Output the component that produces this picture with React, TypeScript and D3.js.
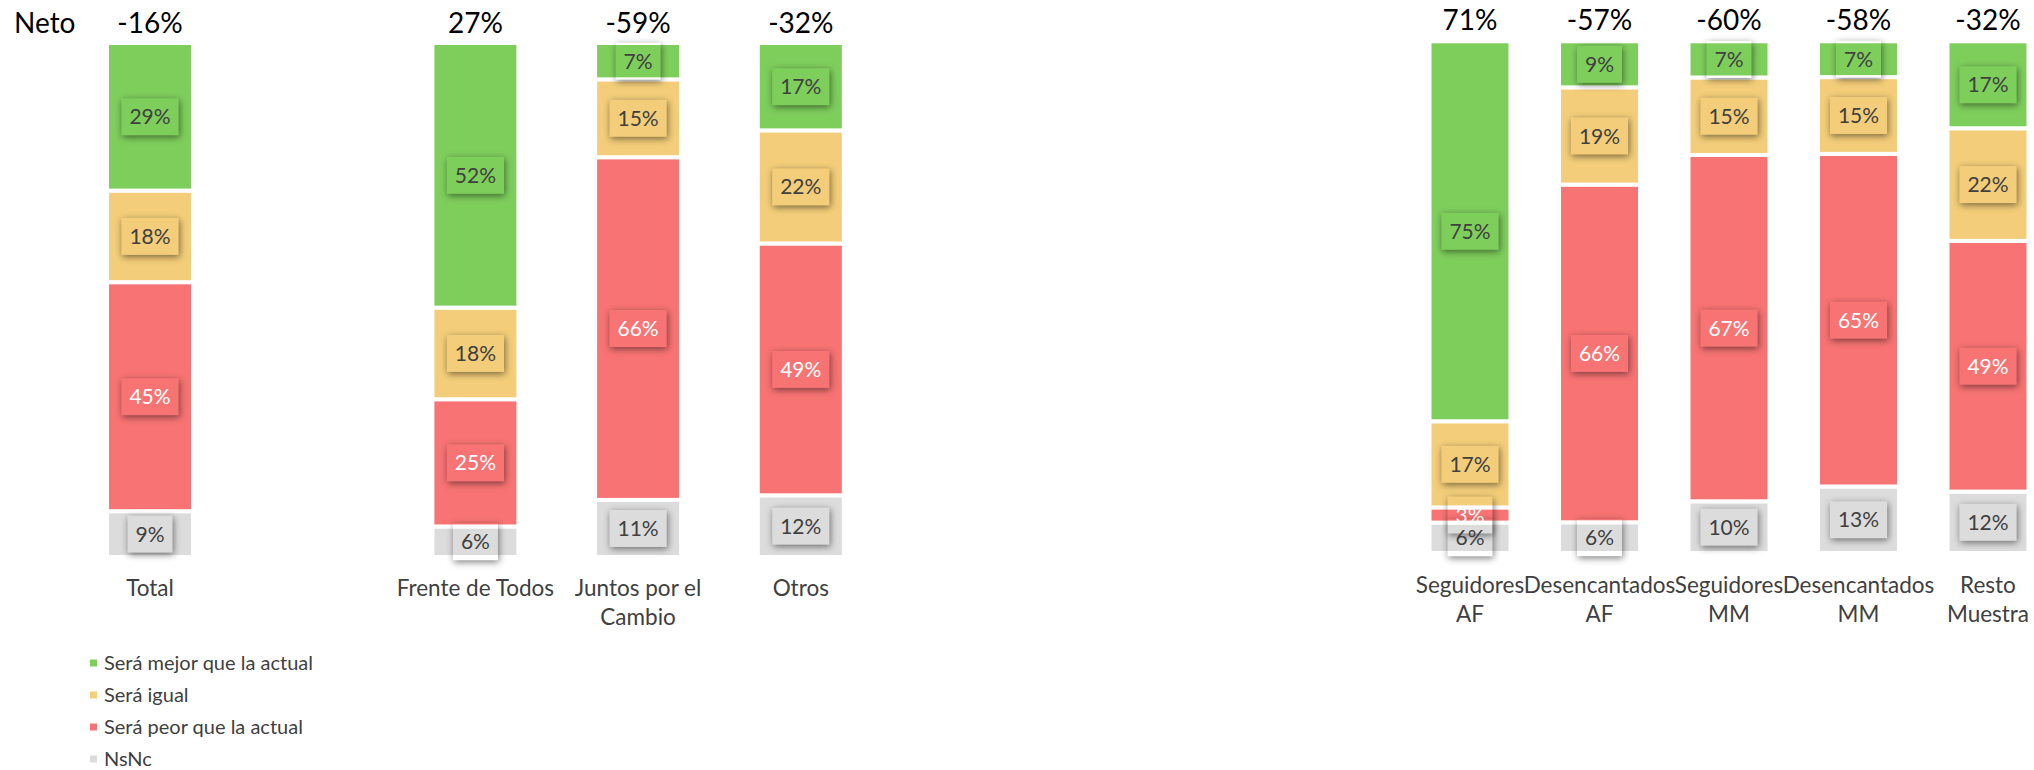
import React from "react";
import * as d3 from "d3";

// ---------- data ----------
const seriesNames = ["Será mejor que la actual", "Será igual", "Será peor que la actual", "NsNc"];

const leftCategories = ["Total", "", "Frente de Todos", "Juntos por el Cambio", "Otros"];
const leftMejor = [29, null, 52, 7, 17];
const leftIgual = [18, null, 18, 15, 22];
const leftPeor = [45, null, 25, 66, 49];
const leftNsNc = [9, null, 6, 11, 12];
const leftNeto = [-16, null, 27, -59, -32];

const rightCategories = ["Seguidores AF", "Desencantados AF", "Seguidores MM", "Desencantados MM", "Resto Muestra"];
const rightMejor = [75, 9, 7, 7, 17];
const rightIgual = [17, 19, 15, 15, 22];
const rightPeor = [3, 66, 67, 65, 49];
const rightNsNc = [6, 6, 10, 13, 12];
const rightNeto = [71, -57, -60, -58, -32];

// ---------- style ----------
const COLORS = ["#7ECE5C", "#F3CD79", "#F87373", "#DCDCDC"];
const LABEL_COLORS = ["#404040", "#404040", "#FFFFFF", "#404040"];
const FONT = "Lato, 'Open Sans', sans-serif";
const W = 2034;
const H = 770;

let _ctx: CanvasRenderingContext2D | null = null;
function measure(text: string, font: string): number {
  if (!_ctx) _ctx = document.createElement("canvas").getContext("2d");
  if (!_ctx) return text.length * 10;
  _ctx.font = font;
  return _ctx.measureText(text).width;
}

function wrap(text: string, maxW: number, font: string): string[] {
  const words = text.split(" ");
  const lines: string[] = [];
  let cur = "";
  words.forEach((w) => {
    const t = cur ? cur + " " + w : w;
    if (cur && measure(t, font) > maxW) {
      lines.push(cur);
      cur = w;
    } else cur = t;
  });
  if (cur) lines.push(cur);
  return lines;
}

type PanelProps = {
  categories: string[];
  series: (number | null)[][];
  neto: (number | null)[];
  center0: number;
  step: number;
  barW: number;
  yTop: number;
  yBottom: number;
  netoBaseline: number;
  catBaseline: number;
  wrapW: number;
};

const STROKE = 4;
const CAT_SIZE = 22.5;

function Panel(p: PanelProps) {
  const n = p.categories.length;
  const keys = p.categories.map((c, i) => String(i));
  const bw = p.barW + STROKE;
  const pi = 1 - bw / p.step;
  const x = d3
    .scaleBand<string>()
    .domain(keys)
    .range([p.center0 - p.step / 2, p.center0 - p.step / 2 + n * p.step])
    .paddingInner(pi)
    .paddingOuter(pi / 2);
  const y = d3.scaleLinear().domain([0, 1]).range([p.yBottom + STROKE / 2, p.yTop - STROKE / 2]);

  const rows = keys.map((k, i) => {
    const o: any = { key: k, valid: p.series[0][i] != null };
    seriesNames.forEach((s, j) => (o[s] = p.series[j][i] ?? 0));
    return o;
  });
  const valid = rows.filter((r) => r.valid);
  // stacking order: bottom NsNc, then peor, igual, mejor at top
  const order = [3, 2, 1, 0];
  const stack = d3
    .stack<any>()
    .keys(order.map((j) => seriesNames[j]))
    .offset(d3.stackOffsetExpand);
  const stacked = stack(valid);

  const catFont = `${CAT_SIZE}px ${FONT}`;
  const lblFont = `21px ${FONT}`;

  return (
    <g>
      {/* bars */}
      {stacked.map((layer, li) => {
        const j = order[li];
        return (
          <g key={"b" + j}>
            {layer.map((d: any) => (
              <rect
                key={d.data.key}
                x={x(d.data.key)}
                width={x.bandwidth()}
                y={y(d[1])}
                height={y(d[0]) - y(d[1])}
                fill={COLORS[j]}
                stroke="#FFFFFF"
                strokeWidth={STROKE}
              />
            ))}
          </g>
        );
      })}
      {/* data labels in series order */}
      {[0, 1, 2, 3].map((j) => {
        const li = order.indexOf(j);
        const layer = stacked[li];
        return (
          <g key={"l" + j}>
            {layer.map((d: any) => {
              const v = d.data[seriesNames[j]];
              const txt = `${v}%`;
              const tw = measure(txt, lblFont);
              const boxW = tw + 16;
              const boxH = 37;
              const cx = (x(d.data.key) as number) + x.bandwidth() / 2;
              const cy = (y(d[0]) + y(d[1])) / 2;
              return (
                <g key={d.data.key}>
                  <rect
                    x={cx - boxW / 2}
                    y={cy - boxH / 2}
                    width={boxW}
                    height={boxH}
                    fill="#000"
                    filter="url(#lblShadow)"
                  />
                  <text
                    x={cx}
                    y={cy}
                    dy="0.36em"
                    textAnchor="middle"
                    fontFamily={FONT}
                    fontSize={21}
                    fill={LABEL_COLORS[j]}
                  >
                    {txt}
                  </text>
                </g>
              );
            })}
          </g>
        );
      })}
      {/* neto labels */}
      {keys.map((k, i) =>
        p.neto[i] == null ? null : (
          <text
            key={"n" + k}
            x={(x(k) as number) + x.bandwidth() / 2}
            y={p.netoBaseline}
            textAnchor="middle"
            fontFamily={FONT}
            fontSize={28}
            fill="#000"
          >
            {`${p.neto[i]}%`}
          </text>
        )
      )}
      {/* category labels */}
      {keys.map((k, i) => {
        const c = p.categories[i];
        if (!c) return null;
        const lines = wrap(c, p.wrapW, catFont);
        const cx = (x(k) as number) + x.bandwidth() / 2;
        return (
          <text key={"c" + k} textAnchor="middle" fontFamily={FONT} fontSize={CAT_SIZE} fill="#404040">
            {lines.map((l, li) => (
              <tspan key={li} x={cx} y={p.catBaseline + li * 29}>
                {l}
              </tspan>
            ))}
          </text>
        );
      })}
    </g>
  );
}

export default function App() {
  const legendY = d3.scalePoint<string>().domain(seriesNames).range([663, 759]);
  return (
    <svg
      width={W}
      height={H}
      style={{ position: "absolute", left: 0, top: 0, display: "block", background: "#fff" }}
    >
      <defs>
        <filter id="lblShadow" x="-50%" y="-60%" width="200%" height="220%">
          <feGaussianBlur in="SourceAlpha" stdDeviation="3.5" result="b" />
          <feOffset in="b" dx="1" dy="1.5" result="o" />
          <feFlood floodColor="#000" floodOpacity="0.5" />
          <feComposite in2="o" operator="in" result="s" />
          <feComposite in="s" in2="SourceAlpha" operator="out" />
        </filter>
      </defs>
      <rect width={W} height={H} fill="#fff" />
      <text x={14} y={33} fontFamily={FONT} fontSize={28} fill="#000">
        Neto
      </text>
      <Panel
        categories={leftCategories}
        series={[leftMejor, leftIgual, leftPeor, leftNsNc]}
        neto={leftNeto}
        center0={150}
        step={162.7}
        barW={82}
        yTop={45}
        yBottom={555}
        netoBaseline={33}
        catBaseline={596}
        wrapW={175}
      />
      <Panel
        categories={rightCategories}
        series={[rightMejor, rightIgual, rightPeor, rightNsNc]}
        neto={rightNeto}
        center0={1470}
        step={129.5}
        barW={77}
        yTop={43.3}
        yBottom={551}
        netoBaseline={30}
        catBaseline={593}
        wrapW={128}
      />
      {/* legend */}
      {seriesNames.map((s, j) => (
        <g key={s} transform={`translate(0,${legendY(s)})`}>
          <rect x={90} y={-3.5} width={7} height={7} fill={COLORS[j]} />
          <text x={104} y={0} dy="0.35em" fontFamily={FONT} fontSize={20} fill="#404040">
            {s}
          </text>
        </g>
      ))}
    </svg>
  );
}
